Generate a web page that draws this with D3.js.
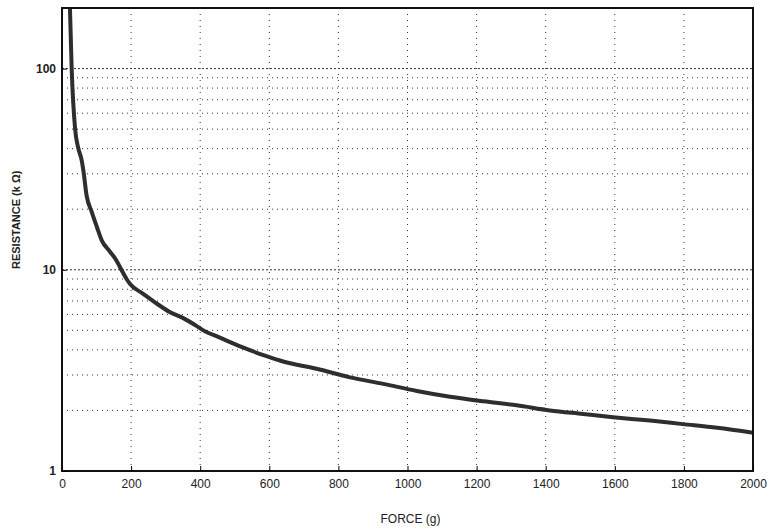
<!DOCTYPE html>
<html>
<head>
<meta charset="utf-8">
<script src="https://cdn.jsdelivr.net/npm/d3@7"></script>
<style>
  body { margin: 0; background: #fff; }
  text { font-family: "Liberation Sans", Arial, sans-serif; fill: #222; }
</style>
</head>
<body>
<div id="chart"></div>
<script>
// chart values
var force = [23, 28, 38, 47, 57, 62, 71, 86, 100, 115, 139, 158, 168, 187, 197, 235, 274, 313, 351, 390, 409, 457, 525, 592, 640, 737, 834, 930, 1027, 1123, 1220, 1316, 1412, 1508, 1595, 1702, 1797, 1896, 2000];
var resistance = [200, 100, 50, 40.3, 35, 31, 23.5, 19.4, 16.5, 14, 12.3, 11.1, 10.3, 9.0, 8.5, 7.6, 6.8, 6.15, 5.75, 5.25, 5.0, 4.6, 4.1, 3.72, 3.5, 3.22, 2.92, 2.71, 2.5, 2.34, 2.22, 2.12, 2.0, 1.92, 1.85, 1.78, 1.71, 1.64, 1.55];
var xTicks = [0, 200, 400, 600, 800, 1000, 1200, 1400, 1600, 1800, 2000];
var yTicks = [1, 10, 100];
var yGrid = [2, 3, 4, 5, 6, 7, 8, 9, 10, 20, 30, 40, 50, 60, 70, 80, 90, 100];

var svgWidth = 769;
var svgHeight = 531;
var margin = { top: 8, right: 16, bottom: 60, left: 62 };
var width = svgWidth - margin.left - margin.right;
var height = svgHeight - margin.top - margin.bottom;

var svg = d3.select("#chart")
  .append("svg")
  .attr("width", svgWidth)
  .attr("height", svgHeight);

var chartGroup = svg.append("g")
  .attr("transform", `translate(${margin.left}, ${margin.top})`);

var x = d3.scaleLinear().domain([0, 2000]).range([0, width]);
var y = d3.scaleLog().domain([1, 200]).range([height, 0]);

// dotted grid
chartGroup.selectAll(".hgrid")
  .data(yGrid)
  .enter()
  .append("line")
  .attr("x1", 0)
  .attr("x2", width)
  .attr("y1", d => y(d))
  .attr("y2", d => y(d))
  .attr("stroke", "#333")
  .attr("stroke-width", 1)
  .attr("stroke-dasharray", d => (d === 10 || d === 100) ? "2,2" : "1,4");

chartGroup.selectAll(".vgrid")
  .data(xTicks.slice(1, -1))
  .enter()
  .append("line")
  .attr("x1", d => x(d))
  .attr("x2", d => x(d))
  .attr("y1", 0)
  .attr("y2", height)
  .attr("stroke", "#333")
  .attr("stroke-width", 1)
  .attr("stroke-dasharray", "1,5");

// the curve
var pts = force.map((f, i) => [f, resistance[i]]);
var line = d3.line()
  .x(d => x(d[0]))
  .y(d => y(d[1]))
  .curve(d3.curveMonotoneX);

chartGroup.append("path")
  .datum(pts)
  .attr("fill", "none")
  .attr("stroke", "#2e2e2e")
  .attr("stroke-width", 4)
  .attr("stroke-linejoin", "round")
  .attr("d", line);

// axis box
chartGroup.append("rect")
  .attr("width", width)
  .attr("height", height)
  .attr("fill", "none")
  .attr("stroke", "#111")
  .attr("stroke-width", 2);

// ticks and labels
var bottomAxis = d3.axisBottom(x).tickValues(xTicks).tickSize(-5).tickPadding(8).tickFormat(d3.format("d"));
var leftAxis = d3.axisLeft(y).tickValues(yTicks).tickSize(-5).tickPadding(6).tickFormat(d3.format("d"));

var gx = chartGroup.append("g")
  .attr("transform", `translate(0, ${height})`)
  .call(bottomAxis);
gx.select(".domain").remove();
gx.selectAll("text").style("font-size", "12px").attr("fill", "#222");

var gy = chartGroup.append("g").call(leftAxis);
gy.select(".domain").remove();
gy.selectAll("text").style("font-size", "12px").style("font-weight", "bold").attr("fill", "#222");

// axes labels
chartGroup.append("text")
  .attr("transform", "rotate(-90)")
  .attr("x", -(y(10) - 50))
  .attr("y", -42)
  .style("text-anchor", "middle")
  .style("font-size", "11px")
  .style("font-weight", "bold")
  .text("RESISTANCE (k Ω)");

chartGroup.append("text")
  .attr("x", x(1000) + 3)
  .attr("y", height + 52)
  .style("text-anchor", "middle")
  .style("font-size", "12px")
  .text("FORCE (g)");
</script>
</body>
</html>
